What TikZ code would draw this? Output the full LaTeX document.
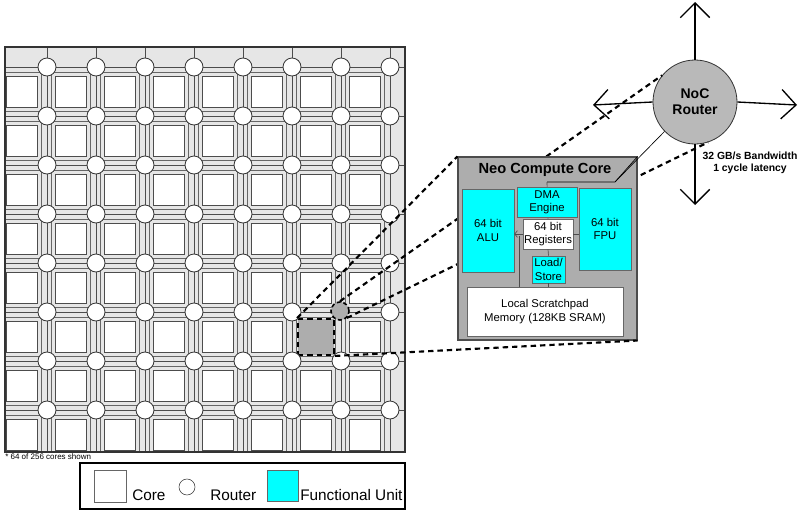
\documentclass[tikz,border=0pt]{standalone}
\usepackage{fontspec}
\setmainfont{Liberation Sans}
\usetikzlibrary{arrows.meta}
\definecolor{gridbg}{HTML}{E6E6E6}
\definecolor{coregray}{HTML}{ADADAD}
\definecolor{fu}{HTML}{00FFFF}
\tikzset{
  px/.style={x=0.75pt,y=-0.75pt},
  core/.style={draw=black!70,fill=white,line width=0.6pt,minimum size=23.25pt,inner sep=0pt},
  frame/.style={draw=black!60,line width=0.5pt,minimum size=29.25pt,inner sep=0pt},
  router/.style={circle,draw=black!80,fill=white,line width=0.6pt,minimum size=13.5pt,inner sep=0pt},
  gline/.style={draw=black!70,line width=0.6pt},
  zdash/.style={draw=black,line width=1.6pt,dash pattern=on 4pt off 3pt},
  unit/.style={draw=black!60,fill=fu,line width=0.5pt,inner sep=0pt,align=center,font=\fontsize{8.5}{10}\selectfont},
  wunit/.style={unit,fill=white},
  arr/.style={line width=1pt,-{Straight Barb[length=11pt,width=22pt,line width=1pt]}},
}
\begin{document}
\begin{tikzpicture}[px]
\useasboundingbox (0,0) rectangle (800,511);
% grid background
\begin{scope}
\clip (5,47) rectangle (405,452);
\fill[gridbg] (5,47) rectangle (405,452);
\foreach \i in {0,...,7}{
 \foreach \j in {0,...,7}{
  \node[frame,fill=gridbg] (f-\i-\j) at ({22+49*\i},{92+49*\j}) {};
  \draw[gline] (f-\i-\j.north east) -- ({47+49*\i},{67+49*\j});
 }}
\foreach \i in {0,...,7}{
  \draw[gline] ({47+49*\i},40) -- ({47+49*\i},460);
  \draw[gline] (0,{67+49*\i}) -- (410,{67+49*\i});
}
\foreach \i in {0,...,7}{
 \foreach \j in {0,...,7}{
  \ifnum\i=6 \ifnum\j=5 \else
  \node[core] (c-\i-\j) at ({22+49*\i},{92+49*\j}) {};
  \fi\else
  \node[core] (c-\i-\j) at ({22+49*\i},{92+49*\j}) {};
  \fi
 }}
\end{scope}
\draw[black!80,line width=0.8pt] (5,47) rectangle (405,452);
\node[core,fill=coregray,zdash,line width=1.4pt,minimum size=27pt] (c-6-5) at (316,337) {};
\foreach \i in {0,...,7}{
 \foreach \j in {0,...,7}{
  \ifnum\i=6 \ifnum\j=5 \else
  \node[router] (r-\i-\j) at ({47+49*\i},{67+49*\j}) {};
  \fi\else
  \node[router] (r-\i-\j) at ({47+49*\i},{67+49*\j}) {};
  \fi
 }}
\node[router,fill=coregray,zdash,line width=1.2pt,dash pattern=on 3pt off 2pt] (r-6-5) at (340,311) {};
\node[anchor=north west,font=\fontsize{6}{7}\selectfont,inner sep=0pt] (note) at (5,453) {* 64 of 256 cores shown};

% NoC router
\node[circle,draw=black!80,fill=coregray!85,line width=0.6pt,minimum size=63pt,align=center,font=\fontsize{10.5}{12}\bfseries] (noc) at (695,102) {NoC\\Router};

% dashed zoom lines
\draw[zdash] (r-6-5.north) -- (noc.141);
\draw[zdash] (r-6-5.south east) -- (noc.-72);

% Neo compute core
\node[draw=black!70,fill=coregray,line width=0.8pt,minimum width=134.25pt,minimum height=137.25pt,inner sep=0pt] (neo) at (547.5,248.5) {};
\node[font=\fontsize{11}{13}\bfseries,inner sep=0pt] (neot) at (545,170) {Neo Compute Core};
\coordinate (tb1) at (547,182);
\coordinate (tb2) at (615,182);
\draw[line width=0.5pt] (neo.north east) -- (tb2) -- (tb1);
\draw[line width=0.5pt] (tb2) -- (noc.224);

\node[unit,minimum width=39pt,minimum height=62pt] (alu) at (488,230.5) {64 bit\\ALU};
\node[unit,minimum width=39pt,minimum height=61.5pt] (fpu) at (605,229) {64 bit\\FPU};
\node[wunit,minimum width=117pt,minimum height=36.75pt] (mem) at (545,311.5) {Local Scratchpad\\Memory (128KB SRAM)};
\node[wunit,minimum width=37.5pt,minimum height=22.5pt] (reg) at (548,234) {64 bit\\Registers};
\node[unit,minimum width=24.75pt,minimum height=20.25pt] (ls) at (548.5,269.5) {Load/\\Store};
\draw[black!70,line width=0.5pt] (tb1) -- (reg.north);
\node[unit,minimum width=45pt,minimum height=22.5pt] (dma) at (547,202.5) {DMA\\Engine};
\draw[black!70,line width=0.5pt] (reg.south) -- (ls.north);
\draw[black!70,line width=0.5pt] (ls.south) -- (ls.south |- mem.north);
\draw[black!70,line width=0.5pt] (reg.east) -- (reg.east -| fpu.west);
\draw[black!70,line width=0.5pt,-{Straight Barb[length=2pt,width=5pt]}] (reg.west) -- (reg.west -| alu.east);
\draw[black!70,line width=0.5pt] (519,236) -- (519,287);

\draw[zdash] (c-6-5.north west) -- (neo.north west);
\draw[zdash] (c-6-5.south east) -- (neo.south east);

% NoC arrows
\coordinate (an) at (695,2);
\coordinate (as) at (695,205);
\coordinate (aw) at (593,105);
\coordinate (ae) at (797,105);
\draw[arr] (noc.north) -- (an);
\draw[arr] (noc.south) -- (as);
\draw[arr] (noc.west) -- (aw);
\draw[arr] (noc.east) -- (ae);
\node[fill=white,inner sep=1pt,align=center,font=\fontsize{7.8}{9}\bfseries] (bw) at (750,163) {32 GB/s Bandwidth\\1 cycle latency};

% legend
\node[draw=black,line width=0.8pt,minimum width=243.75pt,minimum height=34.5pt,inner sep=0pt] (leg) at (242.5,486) {};
\node[draw=black!60,fill=white,minimum size=24pt,inner sep=0pt] (lc) at (110,486.5) {};
\node[anchor=base west,font=\fontsize{11.5}{13}\selectfont,inner sep=0pt] (lct) at (132,500) {Core};
\node[circle,draw=black!80,minimum size=12pt,inner sep=0pt] (lr) at (187,487) {};
\node[anchor=base west,font=\fontsize{11.5}{13}\selectfont,inner sep=0pt] (lrt) at (210,500) {Router};
\node[draw=black!60,fill=fu,minimum size=23.25pt,inner sep=0pt] (lf) at (283,486) {};
\node[anchor=base west,font=\fontsize{11.5}{13}\selectfont,inner sep=0pt] (lft) at (300,500) {Functional Unit};
\end{tikzpicture}
\end{document}
